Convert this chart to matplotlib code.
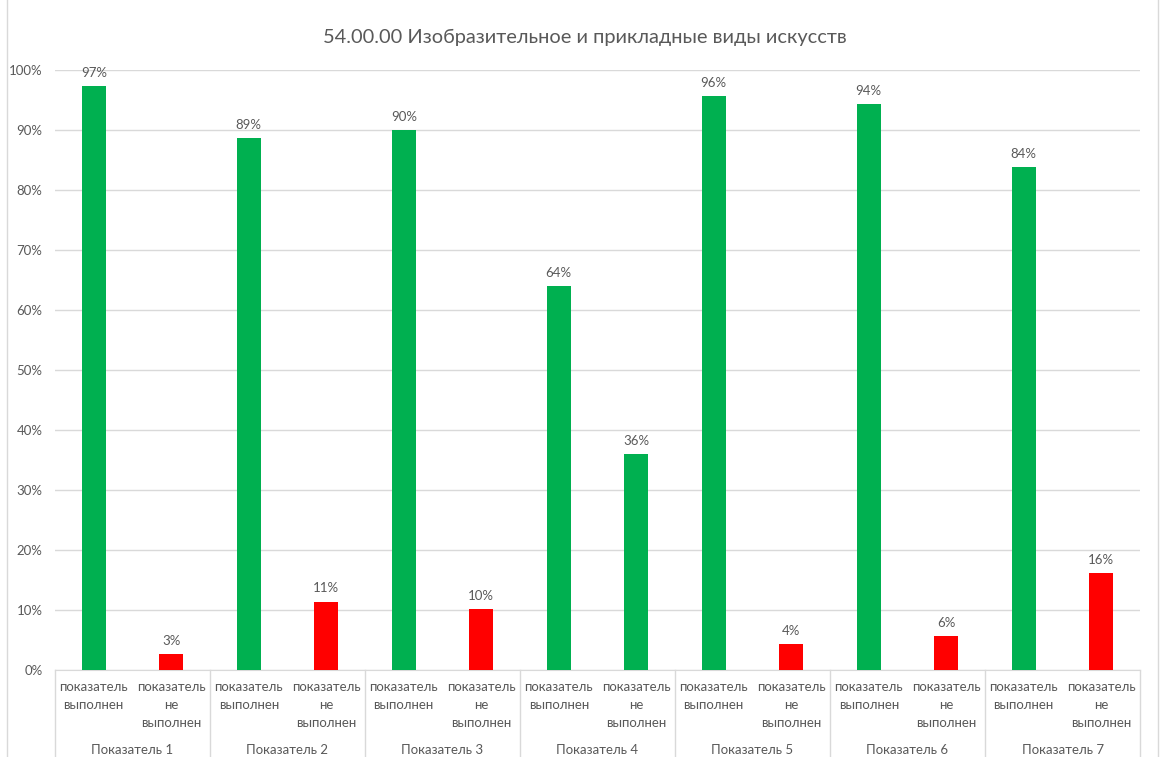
import matplotlib.pyplot as plt
import numpy as np

groups = ["Показатель 1", "Показатель 2", "Показатель 3", "Показатель 4",
          "Показатель 5", "Показатель 6", "Показатель 7"]
sub_labels = ["показатель\nвыполнен", "показатель\nне\nвыполнен"]
done = [0.973, 0.886, 0.900, 0.640, 0.957, 0.943, 0.838]
not_done = [0.027, 0.114, 0.102, 0.360, 0.043, 0.057, 0.162]
done_labels = ["97%", "89%", "90%", "64%", "96%", "94%", "84%"]
not_done_labels = ["3%", "11%", "10%", "36%", "4%", "6%", "16%"]
# in group 4 the second bar is green too
not_done_colors = ["#FF0000", "#FF0000", "#FF0000", "#00B050", "#FF0000", "#FF0000", "#FF0000"]

plt.rcParams['font.family'] = ['Lato', 'DejaVu Sans']
txt = "#595959"

fig = plt.figure(figsize=(11.63, 7.57), dpi=100)
ax = fig.add_axes([55 / 1163, 87 / 757, 1085 / 1163, 600 / 757])

values, colors, labels = [], [], []
for i in range(len(groups)):
    values += [done[i], not_done[i]]
    colors += ["#00B050", not_done_colors[i]]
    labels += [done_labels[i], not_done_labels[i]]

x = np.arange(len(values))
ax.bar(x, values, width=0.31, color=colors, zorder=3)
for xi, v, lab in zip(x, values, labels):
    ax.text(xi, v + 0.012, lab, ha="center", va="bottom", fontsize=9.5, color=txt)

ax.set_xlim(-0.5, len(values) - 0.5)
ax.set_ylim(0, 1)
ax.set_yticks(np.arange(0, 1.01, 0.1))
ax.set_yticklabels([f"{int(round(t * 100))}%" for t in np.arange(0, 1.01, 0.1)])
ax.tick_params(axis="y", length=0, labelsize=9.5, labelcolor=txt, pad=9)
ax.grid(axis="y", color="#D9D9D9", linewidth=1, zorder=0)
ax.set_xticks([])
for s in ["top", "right", "left"]:
    ax.spines[s].set_visible(False)
ax.spines["bottom"].set_color("#D9D9D9")

tr = ax.get_xaxis_transform()
for xi in x:
    ax.text(xi, -0.018, sub_labels[xi % 2], transform=tr, ha="center", va="top",
            fontsize=9.5, color=txt, linespacing=1.6)
for g, name in enumerate(groups):
    ax.text(2 * g + 0.5, -0.124, name, transform=tr, ha="center", va="top",
            fontsize=9.5, color=txt)
for b in range(len(groups) + 1):
    ax.plot([2 * b - 0.5, 2 * b - 0.5], [0, -0.15], transform=tr, color="#D9D9D9",
            linewidth=1, clip_on=False)

fig.text(585 / 1163, 1 - 37 / 757, "54.00.00 Изобразительное и прикладные виды искусств",
         ha="center", va="center", fontsize=14.4, color=txt)

# outer chart frame
fig.add_artist(plt.Line2D([7 / 1163, 7 / 1163], [0, 1], color="#D9D9D9", linewidth=1))
fig.add_artist(plt.Line2D([1158 / 1163, 1158 / 1163], [0, 1], color="#D9D9D9", linewidth=1))

fig.savefig("out.png", dpi=100)
